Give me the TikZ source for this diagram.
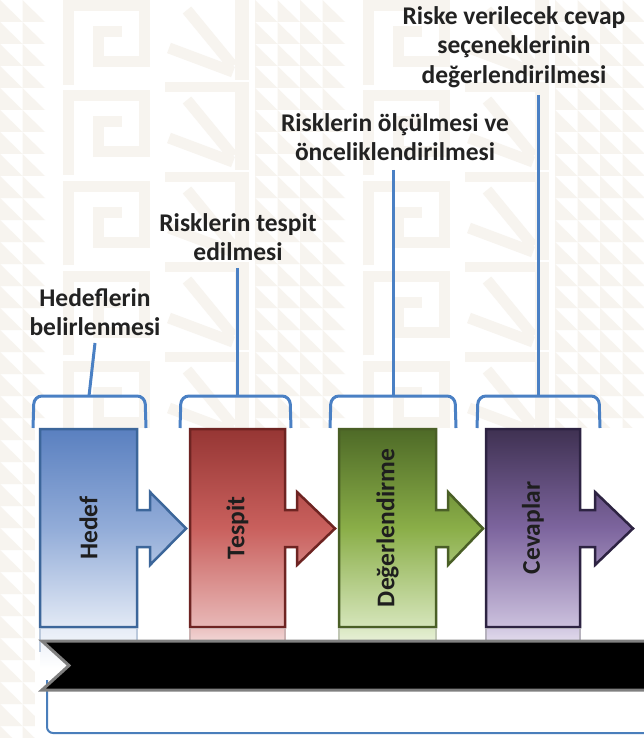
\documentclass[tikz,border=0pt]{standalone}
\usepackage{fontspec}
\setmainfont{Carlito}
\definecolor{bgpat}{HTML}{F7F4EF}
\definecolor{brk}{HTML}{4A80C4}
\definecolor{labtxt}{HTML}{222222}
\definecolor{boxtxt}{HTML}{1E1E1E}
\definecolor{bTop}{HTML}{5A80C0}\definecolor{bMid}{HTML}{92ACD8}\definecolor{bBot}{HTML}{E2E9F5}\definecolor{bBrd}{HTML}{3C669A}
\definecolor{rTop}{HTML}{963634}\definecolor{rMid}{HTML}{C9605D}\definecolor{rBot}{HTML}{E8B8B7}\definecolor{rBrd}{HTML}{6E2422}
\definecolor{gTop}{HTML}{4E6A27}\definecolor{gMid}{HTML}{8AAE48}\definecolor{gBot}{HTML}{D5E5BA}\definecolor{gBrd}{HTML}{4A5F26}
\definecolor{pTop}{HTML}{3F3152}\definecolor{pMid}{HTML}{7D659E}\definecolor{pBot}{HTML}{CBC0DD}\definecolor{pBrd}{HTML}{2D2342}
\definecolor{bandbrd}{HTML}{808080}
\definecolor{botline}{HTML}{4A7EBB}
\newcommand{\arrbox}[8]{%
  \path[draw=#8, line width=2.5pt, line join=miter, top color=#5, bottom color=#7, middle color=#6]
    (#1,429) -- (#2,429) -- (#2,510) -- (#3,510) -- (#3,492) -- (#4,528.5) -- (#3,565)
    -- (#3,547) -- (#2,547) -- (#2,627) -- (#1,627) -- cycle;}
\newcommand{\reflbox}[4]{%
  \shade[top color=#3!85!white, bottom color=white] (#1,629) rectangle (#2,668);
  \draw[#4!35!white, line width=1.5pt] (#1,629) -- (#1,652);
  \draw[#4!35!white, line width=1.5pt] (#2,629) -- (#2,652);}
\tikzset{
  lab/.style={font=\fontsize{25.5}{29.5}\selectfont\bfseries, text=labtxt, align=center, inner sep=0pt},
  boxlab/.style={font=\fontsize{25.5}{29}\selectfont\bfseries, text=boxtxt, inner sep=0pt, rotate=90},
  conn/.style={draw=brk, line width=3pt},
  brack/.style={draw=brk, line width=3pt, rounded corners=8pt},
  patline/.style={draw=bgpat, line width=11pt}
}
\begin{document}
\begin{tikzpicture}[x=1pt,y=-1pt]
\useasboundingbox (0,0) rectangle (644,738);
\fill[white] (0,0) rectangle (644,738);
% ---- background pattern ----
\begin{scope}
\clip (0,0) rectangle (644,738);
\foreach \cx in {-45,255,555} {
  \foreach \i in {0,...,3} {
    \foreach \j in {0,...,33} {
      \fill[bgpat] ({\cx+\i*22.5},{\j*22}) -- ++(0,22) -- ++(22.5,0) -- cycle;
    }
  }
}
\foreach \cx in {60,360} {
  \foreach \j in {0,...,8} {
    \draw[patline, line cap=butt]
      ({\cx+8},{\j*90+85}) -- ({\cx+8},{\j*90+6}) -- ({\cx+84},{\j*90+6})
      -- ({\cx+84},{\j*90+62}) -- ({\cx+38},{\j*90+62}) -- ({\cx+38},{\j*90+32}) -- ({\cx+62},{\j*90+32});
  }
}
\foreach \cx in {165,465} {
  \foreach \j in {0,...,8} {
    \fill[bgpat] ({\cx+70},{\j*90}) rectangle ({\cx+84},{\j*90+80});
    \fill[bgpat] ({\cx},{\j*90+82}) rectangle ({\cx+84},{\j*90+92});
    \draw[patline] ({\cx+68},{\j*90+72}) -- ({\cx+4},{\j*90+48});
    \draw[patline] ({\cx+68},{\j*90+66}) -- ({\cx+22},{\j*90+10});
  }
}
\end{scope}
\fill[white] (35,428) rectangle (644,738);
% ---- labels ----
\node[lab] (l1) at (95,312) {Hedeflerin\\belirlenmesi};
\node[lab] (l2) at (238,237) {Risklerin tespit\\edilmesi};
\node[lab] (l3) at (395,137) {Risklerin ölçülmesi ve\\önceliklendirilmesi};
\node[lab] (l4) at (514,47) {Riske verilecek cevap\\seçeneklerinin\\değerlendirilmesi};
% ---- brackets ----
\coordinate (b1) at (89,396);
\coordinate (b2) at (237,396);
\coordinate (b3) at (393,396);
\coordinate (b4) at (538,396);
\draw[brack] (33,428) -- (34,396) -- (145,396) -- (146,428);
\draw[brack] (180,428) -- (181,396) -- (290,396) -- (291,428);
\draw[brack] (330,428) -- (331,396) -- (455,396) -- (456,428);
\draw[brack] (477,428) -- (478,396) -- (599,396) -- (600,428);
\draw[conn] ([yshift=-7pt]l1.south) -- (b1);
\draw[conn] ([yshift=-7pt]l2.south -| b2) -- (b2);
\draw[conn] ([yshift=-9pt]l3.south -| b3) -- (b3);
\draw[conn] ([yshift=-7pt]l4.south -| b4) -- (b4);
% ---- reflections and bottom line ----
\reflbox{40}{137}{bBot}{bBrd}
\reflbox{190}{285}{rBot}{rBrd}
\reflbox{339}{436}{gBot}{gBrd}
\reflbox{486}{580}{pBot}{pBrd}
\draw[draw=botline, line width=2pt, rounded corners=6pt] (47,680) -- (47,733) -- (660,733);
\path[draw=bandbrd, line width=3pt, fill=black, line join=miter] (42,641) -- (660,641) -- (660,690) -- (42,690) -- (69,665.5) -- cycle;
% ---- boxes ----
\arrbox{40}{137}{150}{186}{bTop}{bMid}{bBot}{bBrd}
\arrbox{190}{285}{297}{335}{rTop}{rMid}{rBot}{rBrd}
\arrbox{339}{436}{448}{483}{gTop}{gMid}{gBot}{gBrd}
\arrbox{486}{580}{595}{633}{pTop}{pMid}{pBot}{pBrd}
\node[boxlab] (t1) at (88.5,528) {Hedef};
\node[boxlab] (t2) at (237.5,528) {Tespit};
\node[boxlab] (t3) at (387.5,528) {Değerlendirme};
\node[boxlab] (t4) at (533,528) {Cevaplar};
\end{tikzpicture}
\end{document}
